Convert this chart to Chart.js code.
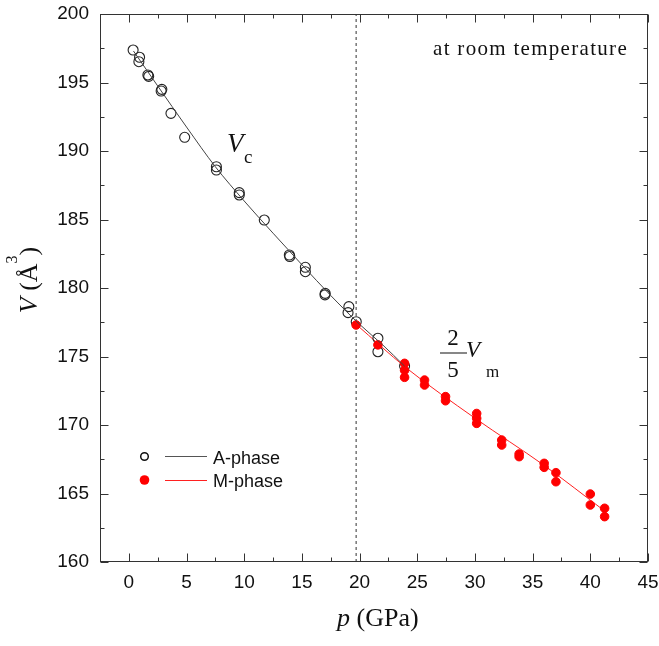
<!DOCTYPE html>
<html>
<head>
<meta charset="utf-8">
<script src="https://cdn.jsdelivr.net/npm/chart.js@4.4.1/dist/chart.umd.min.js"></script>
<style>
  html, body { margin: 0; padding: 0; background: #fff; }
  #chart { display: block; }
</style>
</head>
<body>
<canvas id="chart" width="659" height="646"></canvas>
<script>
// A-phase measurements (open circles)
const aPressure = [0.37, 0.93, 0.87, 1.65, 1.72, 2.8, 2.86, 3.65, 4.84, 7.59, 7.59, 9.57, 9.57, 11.74,
  13.91, 13.95, 15.3, 15.3, 17.02, 17.0, 19.07, 19.0, 19.71, 21.59, 21.59, 23.9];
const aVolume = [197.37, 196.84, 196.52, 195.55, 195.45, 194.38, 194.5, 192.75, 191.0, 188.85, 188.61, 186.96, 186.79, 184.96,
  182.41, 182.3, 181.51, 181.19, 179.61, 179.5, 178.64, 178.2, 177.54, 176.33, 175.35, 174.3];

// M-phase measurements (red dots), already scaled by 2/5
const mPressure = [19.7, 21.59, 23.9, 23.9, 23.9, 25.63, 25.63, 27.45, 27.45, 30.15, 30.15, 30.15,
  32.32, 32.32, 33.83, 33.83, 36.0, 36.0, 37.02, 37.02, 40.0, 40.0, 41.24, 41.24];
const mVolume = [177.3, 175.85, 174.5, 174.0, 173.48, 173.28, 172.92, 172.07, 171.77, 170.84, 170.49, 170.12,
  168.9, 168.54, 167.88, 167.69, 167.2, 166.91, 166.52, 165.86, 164.96, 164.16, 163.92, 163.31];

// fitted curves
const aFitP = [0.4, 2.5, 5, 7.5, 10, 12.5, 15, 17.5, 20, 22, 23.9];
const aFitV = [197.3, 194.75, 191.75, 188.85, 186.35, 184.0, 181.7, 179.45, 177.35, 175.85, 174.3];
const mFitP = [19.7, 24, 30, 36, 41.2];
const mFitV = [177.35, 174.2, 170.5, 167.05, 163.75];

// A -> M transition pressure
const transitionP = 19.7;

const xTicks = [0, 5, 10, 15, 20, 25, 30, 35, 40, 45];
const xMinor = [2.5, 7.5, 12.5, 17.5, 22.5, 27.5, 32.5, 37.5, 42.5];
const yTicks = [160, 165, 170, 175, 180, 185, 190, 195, 200];
const yMinor = [162.5, 167.5, 172.5, 177.5, 182.5, 187.5, 192.5, 197.5];

const SERIF = '"Liberation Serif", "Times New Roman", serif';
const SANS = '"Liberation Sans", Arial, sans-serif';

const pts = (xs, ys) => xs.map((v, i) => ({ x: v, y: ys[i] }));

// frame + inward ticks on all four sides
const framePlugin = {
  id: 'frame',
  beforeDatasetsDraw(chart) {
    const { ctx, chartArea: a, scales: { x, y } } = chart;
    const L = Math.round(a.left) + 0.5, R = Math.round(a.right) - 0.5;
    const T = Math.round(a.top) + 0.5, B = Math.round(a.bottom) - 0.5;
    ctx.save();
    ctx.strokeStyle = '#333';
    ctx.lineWidth = 1;
    ctx.beginPath();
    const xt = (v, len) => {
      const px = Math.round(x.getPixelForValue(v)) + 0.5;
      ctx.moveTo(px, B); ctx.lineTo(px, B - len);
      ctx.moveTo(px, T); ctx.lineTo(px, T + len);
    };
    const yt = (v, len) => {
      const py = Math.round(y.getPixelForValue(v)) + 0.5;
      ctx.moveTo(L, py); ctx.lineTo(L + len, py);
      ctx.moveTo(R, py); ctx.lineTo(R - len, py);
    };
    xTicks.forEach(v => xt(v, 8));
    xMinor.forEach(v => xt(v, 4));
    yTicks.forEach(v => yt(v, 8));
    yMinor.forEach(v => yt(v, 4));
    ctx.stroke();
    ctx.strokeRect(L, T, R - L, B - T);
    ctx.restore();
  },
  afterDraw(chart) {
    const { ctx } = chart;
    ctx.save();
    ctx.fillStyle = '#111';
    ctx.textBaseline = 'alphabetic';

    // x title
    ctx.textAlign = 'left';
    ctx.font = 'italic 26px ' + SERIF;
    ctx.fillText('p', 337, 626);
    let w = ctx.measureText('p').width;
    ctx.font = '26px ' + SERIF;
    ctx.fillText(' (GPa)', 337 + w, 626);

    // y title, rotated
    ctx.save();
    ctx.translate(37, 280);
    ctx.rotate(-Math.PI / 2);
    ctx.font = 'italic 26px ' + SERIF;
    const wV = ctx.measureText('V').width;
    ctx.font = '26px ' + SERIF;
    const wA = ctx.measureText(' (\u00C5').width;
    const wP = ctx.measureText(')').width;
    ctx.font = '16px ' + SERIF;
    const w3 = ctx.measureText('3').width;
    let sx = -(wV + wA + w3 + wP) / 2;
    ctx.font = 'italic 26px ' + SERIF;
    ctx.fillText('V', sx, 0); sx += wV;
    ctx.font = '26px ' + SERIF;
    ctx.fillText(' (\u00C5', sx, 0); sx += wA;
    ctx.font = '16px ' + SERIF;
    ctx.fillText('3', sx, -20); sx += w3;
    ctx.font = '26px ' + SERIF;
    ctx.fillText(')', sx, 0);
    ctx.restore();

    // at room temperature
    ctx.font = '21px ' + SERIF;
    ctx.letterSpacing = '1.3px';
    ctx.textAlign = 'right';
    ctx.fillText('at room temperature', 628, 55);
    ctx.letterSpacing = '0px';

    // V_c
    ctx.textAlign = 'left';
    ctx.font = 'italic 27px ' + SERIF;
    ctx.fillText('V', 227, 152);
    ctx.font = '19px ' + SERIF;
    ctx.fillText('c', 244, 163);

    // 2/5 V_m
    ctx.textAlign = 'center';
    ctx.font = '23px ' + SERIF;
    ctx.fillText('2', 453, 345);
    ctx.fillText('5', 453, 377);
    ctx.fillRect(440, 352.5, 27, 1);
    ctx.textAlign = 'left';
    ctx.font = 'italic 23px ' + SERIF;
    ctx.fillText('V', 466, 357);
    ctx.font = '17px ' + SERIF;
    ctx.fillText('m', 486, 377);

    // legend
    ctx.lineWidth = 1.5;
    ctx.strokeStyle = '#111';
    ctx.beginPath();
    ctx.arc(144.5, 456.5, 3.8, 0, Math.PI * 2);
    ctx.stroke();
    ctx.fillStyle = '#ff0000';
    ctx.beginPath();
    ctx.arc(144.5, 480, 4.8, 0, Math.PI * 2);
    ctx.fill();
    ctx.lineWidth = 1;
    ctx.strokeStyle = '#555';
    ctx.beginPath(); ctx.moveTo(165, 456.5); ctx.lineTo(207, 456.5); ctx.stroke();
    ctx.strokeStyle = '#ff2020';
    ctx.beginPath(); ctx.moveTo(165, 480.5); ctx.lineTo(207, 480.5); ctx.stroke();
    ctx.fillStyle = '#111';
    ctx.font = '18px ' + SANS;
    ctx.fillText('A-phase', 213, 464);
    ctx.fillText('M-phase', 213, 487);
    ctx.restore();
  }
};

new Chart(document.getElementById('chart'), {
  type: 'scatter',
  data: {
    datasets: [
      {
        label: 'A-phase fit',
        data: pts(aFitP, aFitV),
        showLine: true,
        borderColor: '#444',
        borderWidth: 1,
        pointRadius: 0,
        cubicInterpolationMode: 'monotone'
      },
      {
        label: 'M-phase',
        data: pts(mPressure, mVolume),
        pointRadius: 4.3,
        pointBackgroundColor: '#ff0000',
        pointBorderColor: '#ff0000',
        pointBorderWidth: 1
      },
      {
        label: 'A-phase',
        data: pts(aPressure, aVolume),
        pointRadius: 5,
        pointBackgroundColor: 'rgba(0,0,0,0)',
        pointBorderColor: '#222',
        pointBorderWidth: 1.1
      },
      {
        label: 'M-phase fit',
        data: pts(mFitP, mFitV),
        showLine: true,
        borderColor: '#ff2020',
        borderWidth: 1,
        pointRadius: 0,
        cubicInterpolationMode: 'monotone'
      },
      {
        label: 'transition',
        data: [{ x: transitionP, y: 160 }, { x: transitionP, y: 200 }],
        showLine: true,
        borderColor: '#333',
        borderWidth: 1,
        borderDash: [3, 3],
        pointRadius: 0
      }
    ]
  },
  options: {
    responsive: false,
    animation: false,
    layout: { padding: { top: 14, right: 11, left: 0, bottom: 0 } },
    plugins: {
      legend: { display: false },
      tooltip: { enabled: false }
    },
    scales: {
      x: {
        type: 'linear',
        min: -2.5,
        max: 45,
        grid: { display: false, drawTicks: false },
        border: { display: false },
        afterBuildTicks: s => { s.ticks = xTicks.map(v => ({ value: v })); },
        afterFit: s => { s.height = 84; s.paddingLeft = 0; s.paddingRight = 0; },
        ticks: {
          padding: 9,
          color: '#111',
          font: { family: SANS, size: 19 },
          maxRotation: 0,
          autoSkip: false
        }
      },
      y: {
        type: 'linear',
        min: 160,
        max: 200,
        grid: { display: false, drawTicks: false },
        border: { display: false },
        afterBuildTicks: s => { s.ticks = yTicks.map(v => ({ value: v })); },
        afterFit: s => { s.width = 100; s.paddingTop = 0; s.paddingBottom = 0; },
        ticks: {
          padding: 11,
          color: '#111',
          font: { family: SANS, size: 19 }
        }
      }
    }
  },
  plugins: [framePlugin]
});
</script>
</body>
</html>
